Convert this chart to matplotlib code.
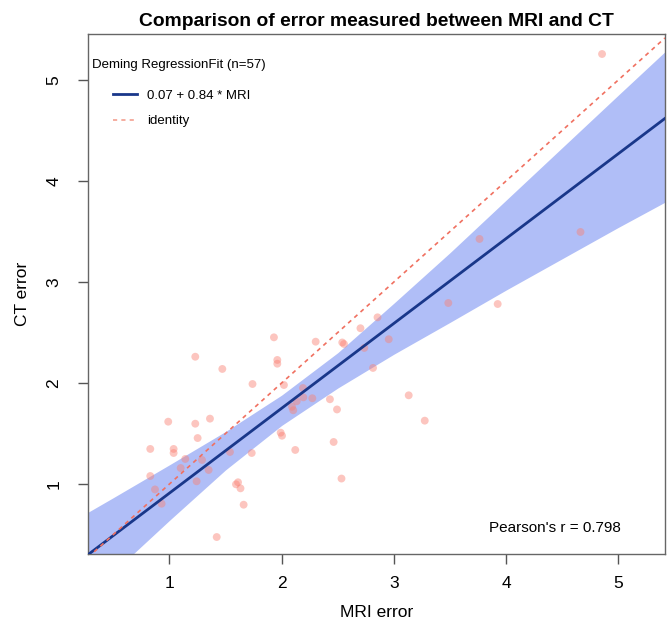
import matplotlib
matplotlib.use("Agg")
import matplotlib.pyplot as plt
from matplotlib.lines import Line2D

plt.rcParams['font.family'] = ['Liberation Sans', 'DejaVu Sans']

# ---- data ----
mri = [4.855, 3.763, 4.663, 3.485, 3.925, 2.854, 2.702, 2.954, 2.736, 2.814,
       3.132, 3.275, 1.931, 2.303, 2.540, 2.555, 1.961, 1.961, 1.740, 2.020,
       2.190, 2.193, 2.134, 2.273, 2.430, 2.493, 2.092, 2.103, 1.991, 2.003,
       2.121, 1.733, 2.463, 2.533, 1.593, 1.611, 1.633, 1.661, 1.421, 1.230,
       1.471, 0.989, 1.230, 1.361, 1.251, 0.829, 1.037, 1.037, 1.141, 1.290,
       1.539, 1.100, 1.349, 0.829, 1.242, 0.871, 0.930]
ct = [5.257, 3.426, 3.495, 2.792, 2.782, 2.650, 2.542, 2.433, 2.347, 2.149,
      1.878, 1.627, 2.452, 2.409, 2.401, 2.386, 2.228, 2.191, 1.990, 1.980,
      1.950, 1.858, 1.819, 1.849, 1.839, 1.738, 1.765, 1.730, 1.508, 1.478,
      1.337, 1.307, 1.416, 1.054, 0.997, 1.017, 0.957, 0.795, 0.475, 2.260,
      2.139, 1.617, 1.597, 1.647, 1.455, 1.347, 1.347, 1.307, 1.248, 1.238,
      1.317, 1.158, 1.139, 1.079, 1.027, 0.946, 0.805]

intercept = 0.07
slope = 0.84
pearson_r = 0.798
n_obs = 57

# confidence band edges
band_x = [0.274, 0.5, 1.0, 1.5, 2.0, 2.5, 3.0, 3.5, 4.0, 4.5, 5.0, 5.416]
band_hi = [0.72, 0.865, 1.19, 1.52, 1.88, 2.30, 2.79, 3.29, 3.81, 4.33, 4.85, 5.28]
band_lo = [-0.11, 0.126, 0.64, 1.14, 1.58, 1.95, 2.285, 2.60, 2.92, 3.23, 3.54, 3.79]

x_range = [0.274, 5.416]
y_range = [0.307, 5.455]
ticks = [1, 2, 3, 4, 5]

# ---- figure ----
fig = plt.figure(figsize=(6.72, 6.25), dpi=100)
ax = fig.add_axes([88/672, 71/625, 577/672, 520/625])

ax.fill_between(band_x, band_lo, band_hi, color='#B0BEF7', linewidth=0, zorder=1)
ax.scatter(mri, ct, s=32, color='#FA8072', alpha=0.45, edgecolors='none', zorder=2)

fit_y = [intercept + slope * v for v in x_range]
ax.plot(x_range, fit_y, color='#19378A', lw=2, zorder=3)
ax.plot(x_range, x_range, color='#F07060', lw=1.2, dashes=(2.5, 2.5), zorder=3)

ax.set_xlim(*x_range)
ax.set_ylim(*y_range)
ax.set_xticks(ticks)
ax.set_yticks(ticks)
ax.set_xticklabels([str(t) for t in ticks])
ax.set_yticklabels([str(t) for t in ticks], rotation=90, va='center')
ax.tick_params(direction='out', length=7, width=1, color='#555555',
               labelsize=12.5, pad=9)
ax.tick_params(axis='y', pad=12)
for s in ax.spines.values():
    s.set_color('#666666')
    s.set_linewidth(1)

ax.set_xlabel('MRI error', fontsize=12.5, labelpad=10)
ax.set_ylabel('CT error', fontsize=12.5, labelpad=12)
ax.set_title('Comparison of error measured between MRI and CT',
             fontsize=13.9, fontweight='bold', pad=6)

ax.text(0.007, 0.940, 'Deming RegressionFit (n=%d)' % n_obs, transform=ax.transAxes,
        fontsize=9.5, ha='left', va='center')
handles = [Line2D([0], [0], color='#19378A', lw=2),
           Line2D([0], [0], color='#F4A090', lw=1.2, dashes=(2.5, 2.5))]
labels = ['%.2f + %.2f * MRI' % (intercept, slope), 'identity']
ax.legend(handles, labels, loc='upper left', bbox_to_anchor=(0.043, 0.893),
          frameon=False, fontsize=9.5, handlelength=1.85, handletextpad=0.75,
          borderpad=0, borderaxespad=0, labelspacing=1.0)

ax.text(0.809, 0.05, "Pearson's r = %.3f" % pearson_r, transform=ax.transAxes,
        fontsize=11, ha='center', va='center')

fig.savefig('out.png', dpi=100)
